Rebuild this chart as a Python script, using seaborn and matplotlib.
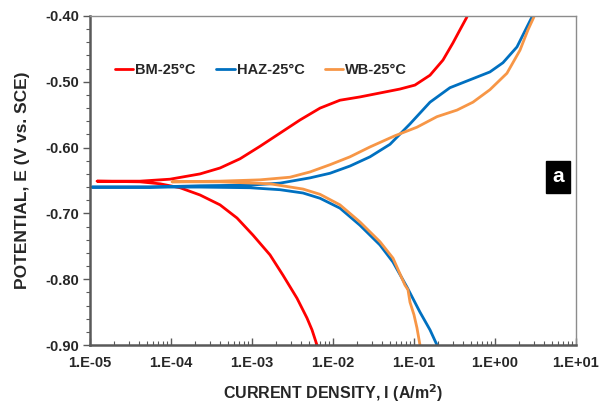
import numpy as np
import pandas as pd
import matplotlib
matplotlib.use("Agg")
import matplotlib.pyplot as plt
import seaborn as sns
from matplotlib.ticker import LogLocator, MultipleLocator, FuncFormatter, NullFormatter

sns.set_theme(style="white")
plt.rcParams['font.family'] = ['Liberation Sans', 'DejaVu Sans']

series_names = ["BM-25°C", "HAZ-25°C", "WB-25°C"]
colors = ["#FF0000", "#0070C0", "#F79646"]

# log10 of current density (A/m2) and potential (V vs SCE)
# cathodic branch (from -0.90 V up to Ecorr), then anodic branch
bm_cath_logi = [-2.198, -2.259, -2.321, -2.444, -2.617, -2.778, -2.988, -3.185, -3.395, -3.642, -3.889, -4.136, -4.383, -4.914]
bm_cath_e = [-0.900, -0.877, -0.859, -0.829, -0.794, -0.763, -0.733, -0.707, -0.687, -0.672, -0.661, -0.655, -0.652, -0.651]
bm_an_logi = [-4.914, -4.383, -4.012, -3.642, -3.395, -3.148, -2.901, -2.654, -2.407, -2.160, -1.914, -1.667, -1.420, -1.173, -0.988, -0.802, -0.642, -0.519, -0.432, -0.346]
bm_an_e = [-0.651, -0.651, -0.648, -0.640, -0.631, -0.617, -0.598, -0.578, -0.558, -0.540, -0.528, -0.523, -0.517, -0.511, -0.505, -0.490, -0.467, -0.441, -0.421, -0.4015]

haz_cath_logi = [-0.716, -0.802, -0.926, -1.086, -1.259, -1.420, -1.667, -1.914, -2.160, -2.370, -2.654, -3.025, -3.642, -4.259, -4.975]
haz_cath_e = [-0.900, -0.877, -0.850, -0.812, -0.774, -0.748, -0.718, -0.692, -0.677, -0.669, -0.664, -0.661, -0.660, -0.660, -0.660]
haz_an_logi = [-4.975, -4.259, -3.642, -3.025, -2.654, -2.284, -2.037, -1.790, -1.543, -1.296, -1.049, -0.802, -0.556, -0.309, -0.062, 0.099, 0.272, 0.395, 0.457]
haz_an_e = [-0.660, -0.660, -0.658, -0.657, -0.654, -0.646, -0.639, -0.628, -0.614, -0.595, -0.564, -0.531, -0.509, -0.497, -0.485, -0.471, -0.447, -0.4167, -0.4015]

wb_cath_logi = [-0.926, -0.963, -1.000, -1.049, -1.074, -1.111, -1.259, -1.420, -1.667, -1.914, -2.160, -2.370, -2.778, -3.395, -3.988]
wb_cath_e = [-0.900, -0.874, -0.854, -0.835, -0.816, -0.809, -0.768, -0.743, -0.713, -0.687, -0.671, -0.663, -0.655, -0.652, -0.652]
wb_an_logi = [-3.988, -3.395, -2.901, -2.531, -2.284, -2.037, -1.790, -1.543, -1.235, -0.963, -0.716, -0.469, -0.272, -0.062, 0.148, 0.309, 0.407, 0.481]
wb_an_e = [-0.652, -0.651, -0.649, -0.645, -0.637, -0.626, -0.614, -0.599, -0.582, -0.569, -0.553, -0.543, -0.531, -0.512, -0.487, -0.452, -0.4213, -0.4015]

rows = []
for name, cl, ce, al, ae in [
    (series_names[0], bm_cath_logi, bm_cath_e, bm_an_logi, bm_an_e),
    (series_names[1], haz_cath_logi, haz_cath_e, haz_an_logi, haz_an_e),
    (series_names[2], wb_cath_logi, wb_cath_e, wb_an_logi, wb_an_e),
]:
    li = list(cl) + list(al)
    ee = list(ce) + list(ae)
    for k, (a, b) in enumerate(zip(li, ee)):
        rows.append({"series": name, "order": k, "i": 10 ** a, "E": b})
df = pd.DataFrame(rows)

fig = plt.figure(figsize=(6.01, 4.03), dpi=100)
ax = fig.add_axes([0.1498, 0.1439, 0.8085, 0.8164])

sns.lineplot(data=df, x="i", y="E", hue="series", units="series", estimator=None,
             sort=False, palette=dict(zip(series_names, colors)), linewidth=2.0, ax=ax,
             legend=False)
for ln in ax.get_lines():
    ln.set_solid_joinstyle("round")
    ln.set_solid_capstyle("round")

ax.set_xscale("log")
ax.set_xlim(1e-5, 1e1)
ax.set_ylim(-0.90, -0.40)

ax.xaxis.set_major_locator(LogLocator(base=10, numticks=20))
ax.xaxis.set_minor_locator(LogLocator(base=10, subs=np.arange(2, 10), numticks=100))
ax.xaxis.set_minor_formatter(NullFormatter())
ax.xaxis.set_major_formatter(FuncFormatter(lambda v, p: "1.E%+03d" % int(round(np.log10(v)))))
ax.yaxis.set_major_locator(MultipleLocator(0.1))
ax.yaxis.set_minor_locator(MultipleLocator(0.02))
ax.yaxis.set_major_formatter(FuncFormatter(lambda v, p: "%.2f" % v))

ax.tick_params(axis="x", which="major", direction="in", length=5, width=1, color="#595959",
               labelsize=10.5, pad=8)
ax.tick_params(axis="x", which="minor", direction="in", length=3, width=0.8, color="#595959")
ax.tick_params(axis="y", which="major", direction="out", length=5, width=1, color="#595959",
               labelsize=10.5, pad=3)
ax.tick_params(axis="y", which="minor", direction="out", length=3, width=0.8, color="#595959")
ax.xaxis.set_ticks_position("bottom")
ax.yaxis.set_ticks_position("left")
for lab in ax.get_xticklabels() + ax.get_yticklabels():
    lab.set_fontweight("bold")
    lab.set_color("#262626")

for s in ["left", "bottom"]:
    ax.spines[s].set_color("#595959")
    ax.spines[s].set_linewidth(1.8)
for s in ["top", "right"]:
    ax.spines[s].set_color("#8c8c8c")
    ax.spines[s].set_linewidth(1.0)

ax.set_xlabel("CURRENT DENSITY, I (A/m$^\\mathbf{2}$)", fontsize=11.5, fontweight="bold",
              color="#262626", labelpad=9)
ax.set_ylabel("POTENTIAL, E (V vs. SCE)", fontsize=12.5, fontweight="bold", color="#262626",
              labelpad=11)

handles = [plt.Line2D([0], [0], color=c, lw=2.0) for c in colors]
leg = ax.legend(handles, series_names, loc="center left", bbox_to_anchor=(0.0514, 0.836),
                ncol=3, frameon=False, handlelength=1.25, handletextpad=0.15, columnspacing=1.4,
                borderpad=0, borderaxespad=0, prop={"weight": "bold", "size": 10.5})
for t in leg.get_texts():
    t.set_color("#262626")

ax.text(0.963, 0.511, "a", transform=ax.transAxes, fontsize=15, fontweight="bold",
        color="white", ha="center", va="center",
        bbox=dict(boxstyle="square,pad=0.3", fc="black", ec="black"))

fig.savefig("out.png", dpi=100)
